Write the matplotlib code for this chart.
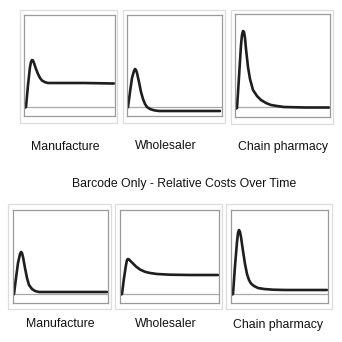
import numpy as np
import matplotlib.pyplot as plt
from matplotlib.patches import Rectangle

# relative cost curves, baseline = 0 (time in arbitrary steps)
t_top_manu = [0, 2, 4, 6, 7, 8, 9, 10, 12, 14, 16, 18, 21, 24, 40, 60, 90]
c_top_manu = [-1, 0, 22, 40, 45, 47, 46.5, 44, 38, 33, 29, 26.5, 24.8, 24, 24, 24, 23.5]

t_top_whole = [0, 1, 3, 5, 7, 8, 9, 10, 12, 14, 16, 18, 20, 23, 27, 32, 50, 93]
c_top_whole = [-1, 0, 15, 29, 36, 38, 37, 34, 25, 15, 8, 3, 0, -2, -3.3, -4, -4, -4]

t_top_chain = [0, 2, 4, 6, 7, 8, 9, 10, 11, 13, 15, 18, 22, 26, 31, 36, 42, 49, 70, 94]
c_top_chain = [-2, -1, 30, 62, 72, 76, 75, 69, 58, 40, 28, 17, 11, 7, 4, 2, 1, 0, -0.5, -0.5]

t_bot_manu = [0, 1, 3, 5, 7, 8, 9, 10, 12, 14, 16, 19, 22, 26, 40, 94]
c_bot_manu = [-1, 0, 16, 31, 40, 42, 41, 37, 26, 16, 9, 5, 3, 2, 2, 2]

t_bot_whole = [0, 2, 4, 6, 7, 8, 9, 10, 13, 16, 20, 25, 30, 37, 50, 70, 98]
c_bot_whole = [-1, 0, 16, 29, 34, 35, 34.5, 33.5, 30.5, 27.5, 24.5, 22.2, 21, 20, 19.3, 19, 19]

t_bot_chain = [0, 2, 4, 6, 7, 8, 9, 10, 12, 14, 16, 18, 20, 23, 27, 33, 42, 55, 96]
c_bot_chain = [-1, 0, 28, 52, 61, 64, 62, 57, 43, 30, 20, 14, 10.5, 8, 6, 5, 4.3, 4, 4]

labels = ['Manufacture', 'Wholesaler', 'Chain pharmacy']
title = 'Barcode Only - Relative Costs Over Time'

W = 342.0
fig = plt.figure(figsize=(3.42, 3.42), dpi=100)

def px_axes(x0, x1, y0, y1):
    return fig.add_axes([x0 / W, 1 - y1 / W, (x1 - x0) / W, (y1 - y0) / W])

def frame(x0, x1, y0, y1):
    fig.patches.append(Rectangle((x0 / W, 1 - y1 / W), (x1 - x0) / W, (y1 - y0) / W,
                                 transform=fig.transFigure, fill=False,
                                 edgecolor='#dcdcdc', linewidth=0.9))

def panel(box, outer, base_y, t, c):
    x0, x1, y0, y1 = box
    frame(*outer)
    ax = px_axes(x0, x1, y0, y1)
    ax.axhline(0, color='#a8a8a8', linewidth=0.9)
    ax.plot(t, c, color='#1e1e1e', linewidth=1.9, solid_capstyle='round',
            solid_joinstyle='round')
    ax.set_xlim(0, x1 - x0)
    ax.set_ylim(base_y - y1, base_y - y0)
    ax.set_xticks([])
    ax.set_yticks([])
    for s in ax.spines.values():
        s.set_color('#9a9a9a')
        s.set_linewidth(0.9)
    return ax

# top row
panel((24, 115, 15, 116), (20, 117, 10, 123), 107, t_top_manu, c_top_manu)
panel((127, 222, 15, 116), (123, 225, 10, 123), 107, t_top_whole, c_top_whole)
panel((235, 330, 14, 117), (231, 333, 10, 124), 107, t_top_chain, c_top_chain)

# bottom row
panel((13, 108, 210, 303), (8, 111, 204, 309), 294, t_bot_manu, c_bot_manu)
panel((120, 219, 210, 303), (115, 222, 204, 309), 294, t_bot_whole, c_bot_whole)
panel((231, 328, 210, 303), (226, 332, 204, 309), 294, t_bot_chain, c_bot_chain)

fs = 8.8
for x, y, s in [(65, 147, labels[0]), (166, 146, labels[1]), (283, 147, labels[2]),
                (60, 324, labels[0]), (166, 324, labels[1]), (278, 325, labels[2])]:
    fig.text(x / W, 1 - y / W, s, ha='center', va='center', fontsize=fs,
             family='Liberation Sans', color='#111111')

fig.text(184 / W, 1 - 184 / W, title, ha='center', va='center', fontsize=fs,
         family='Liberation Sans', color='#111111')

fig.savefig('out.png', dpi=100)
